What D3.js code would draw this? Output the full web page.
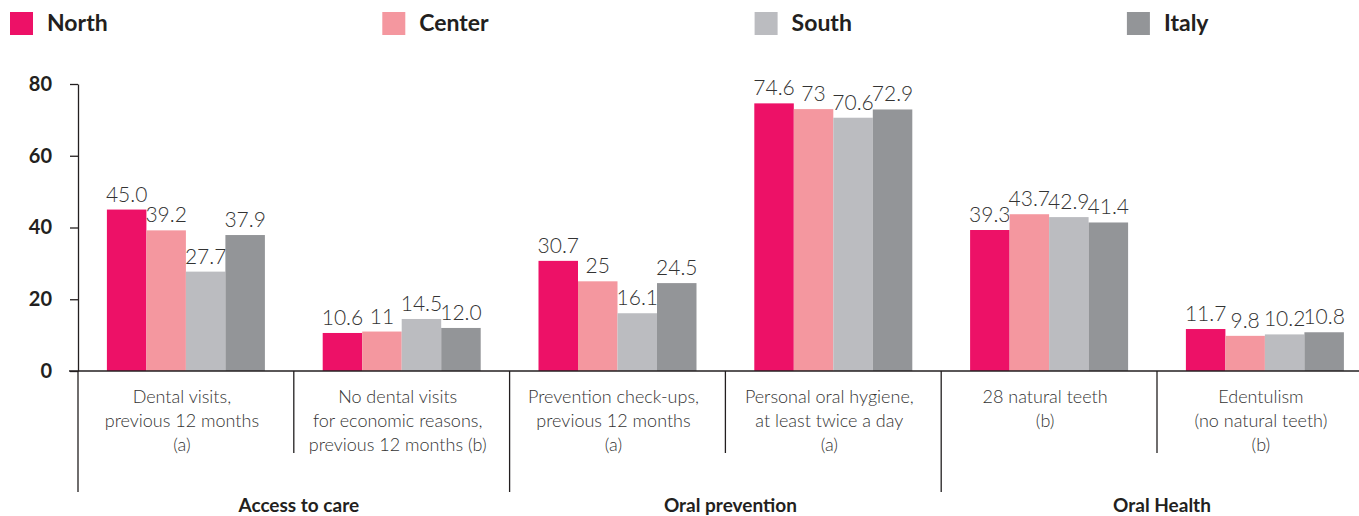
<!DOCTYPE html>
<html>
<head>
<meta charset="utf-8">
<script src="https://cdn.jsdelivr.net/npm/d3@7"></script>
<style>
  body { margin: 0; background: #fff; }
  svg { display: block; font-family: Lato, "Open Sans", sans-serif; }
</style>
</head>
<body>
<div id="viz"></div>
<script>
// data
const categories = [
    "Dental visits,|previous 12 months|(a)",
    "No dental visits|for economic reasons,|previous 12 months (b)",
    "Prevention check-ups,|previous 12 months|(a)",
    "Personal oral hygiene,|at least twice a day|(a)",
    "28 natural teeth|(b)",
    "Edentulism|(no natural teeth)|(b)"
];
const groups = ["Access to care", "Oral prevention", "Oral Health"];
const series = ["North", "Center", "South", "Italy"];
const colors = ["#ed1167", "#f4979f", "#bbbcc0", "#939598"];

const north = [45.0, 10.6, 30.7, 74.6, 39.3, 11.7];
const center = [39.2, 11, 25, 73, 43.7, 9.8];
const south = [27.7, 14.5, 16.1, 70.6, 42.9, 10.2];
const italy = [37.9, 12.0, 24.5, 72.9, 41.4, 10.8];

const northLabels = ["45.0", "10.6", "30.7", "74.6", "39.3", "11.7"];
const centerLabels = ["39.2", "11", "25", "73", "43.7", "9.8"];
const southLabels = ["27.7", "14.5", "16.1", "70.6", "42.9", "10.2"];
const italyLabels = ["37.9", "12.0", "24.5", "72.9", "41.4", "10.8"];

const yTicks = [0, 20, 40, 60, 80];

function chart() {
    const width = 1359, height = 516;
    const values = [north, center, south, italy];
    const labels = [northLabels, centerLabels, southLabels, italyLabels];

    let svg = d3.select("#viz")
        .append("svg")
        .attr("width", width)
        .attr("height", height);

    let x0 = d3.scaleBand()
        .domain(categories)
        .range([78, 78 + 6 * 215.8]);
    let bw = x0.bandwidth();
    let x1 = d3.scaleBand()
        .domain(series)
        .range([bw / 2 - 79, bw / 2 + 79]);
    let y = d3.scaleLinear()
        .domain([0, 80])
        .range([371, 84]);

    // legend
    let legend = svg.selectAll(".legend")
        .data(series)
        .enter().append("g")
        .attr("transform", (d, i) => `translate(${10 + i * 372.3},12)`);
    legend.append("rect")
        .attr("width", 23).attr("height", 23)
        .style("fill", (d, i) => colors[i]);
    legend.append("text")
        .attr("x", 37).attr("y", 19)
        .style("font-size", "23px").style("font-weight", "bold")
        .style("fill", "#231f20")
        .text(d => d);

    // y axis
    let yAxis = svg.append("g")
        .attr("transform", "translate(78,0)")
        .call(d3.axisLeft(y).tickValues(yTicks).tickSize(8).tickSizeOuter(0).tickPadding(18));
    yAxis.select(".domain").style("stroke", "#231f20").style("stroke-width", 1.3);
    yAxis.selectAll(".tick line").style("stroke", "#231f20").style("stroke-width", 1.3);
    yAxis.selectAll(".tick text")
        .style("font-family", "Lato, sans-serif")
        .style("font-size", "20px").style("font-weight", "bold")
        .style("fill", "#231f20");

    // bars
    series.forEach(function (s, si) {
        let g = svg.append("g");
        g.selectAll("rect")
            .data(values[si])
            .enter().append("rect")
            .attr("x", (d, i) => x0(categories[i]) + x1(s))
            .attr("y", d => y(d))
            .attr("width", x1.bandwidth())
            .attr("height", d => y(0) - y(d))
            .style("fill", colors[si]);
        g.selectAll("text")
            .data(values[si])
            .enter().append("text")
            .attr("x", (d, i) => x0(categories[i]) + x1(s) + x1.bandwidth() / 2)
            .attr("y", d => y(d) - 8)
            .attr("text-anchor", "middle")
            .style("font-size", "21px").style("font-weight", 300)
            .style("fill", "#333")
            .text((d, i) => labels[si][i]);
    });

    // baseline
    svg.append("line")
        .attr("x1", 69).attr("x2", width)
        .attr("y1", y(0)).attr("y2", y(0))
        .style("stroke", "#231f20").style("stroke-width", 1.3);

    // separators: long between groups, short inside a group
    d3.range(categories.length + 1).forEach(function (i) {
        let xx = 78 + i * bw;
        svg.append("line")
            .attr("x1", xx).attr("x2", xx)
            .attr("y1", y(0)).attr("y2", i % 2 == 0 ? 492 : 453)
            .style("stroke", "#231f20").style("stroke-width", 1.3);
    });

    // category labels
    categories.forEach(function (c, i) {
        let t = svg.append("text")
            .attr("text-anchor", "middle")
            .style("font-size", "18px").style("font-weight", 300)
            .style("fill", "#333");
        c.split("|").forEach(function (line, k) {
            t.append("tspan")
                .attr("x", x0(c) + bw / 2 - 4)
                .attr("y", 403 + k * 24)
                .text(line);
        });
    });

    // group labels
    svg.selectAll(".group")
        .data(groups)
        .enter().append("text")
        .attr("x", (d, i) => 78 + (2 * i + 1) * bw + 5)
        .attr("y", 512)
        .attr("text-anchor", "middle")
        .style("font-size", "19px").style("font-weight", "bold")
        .style("fill", "#231f20")
        .text(d => d);
}

chart();
</script>
</body>
</html>
